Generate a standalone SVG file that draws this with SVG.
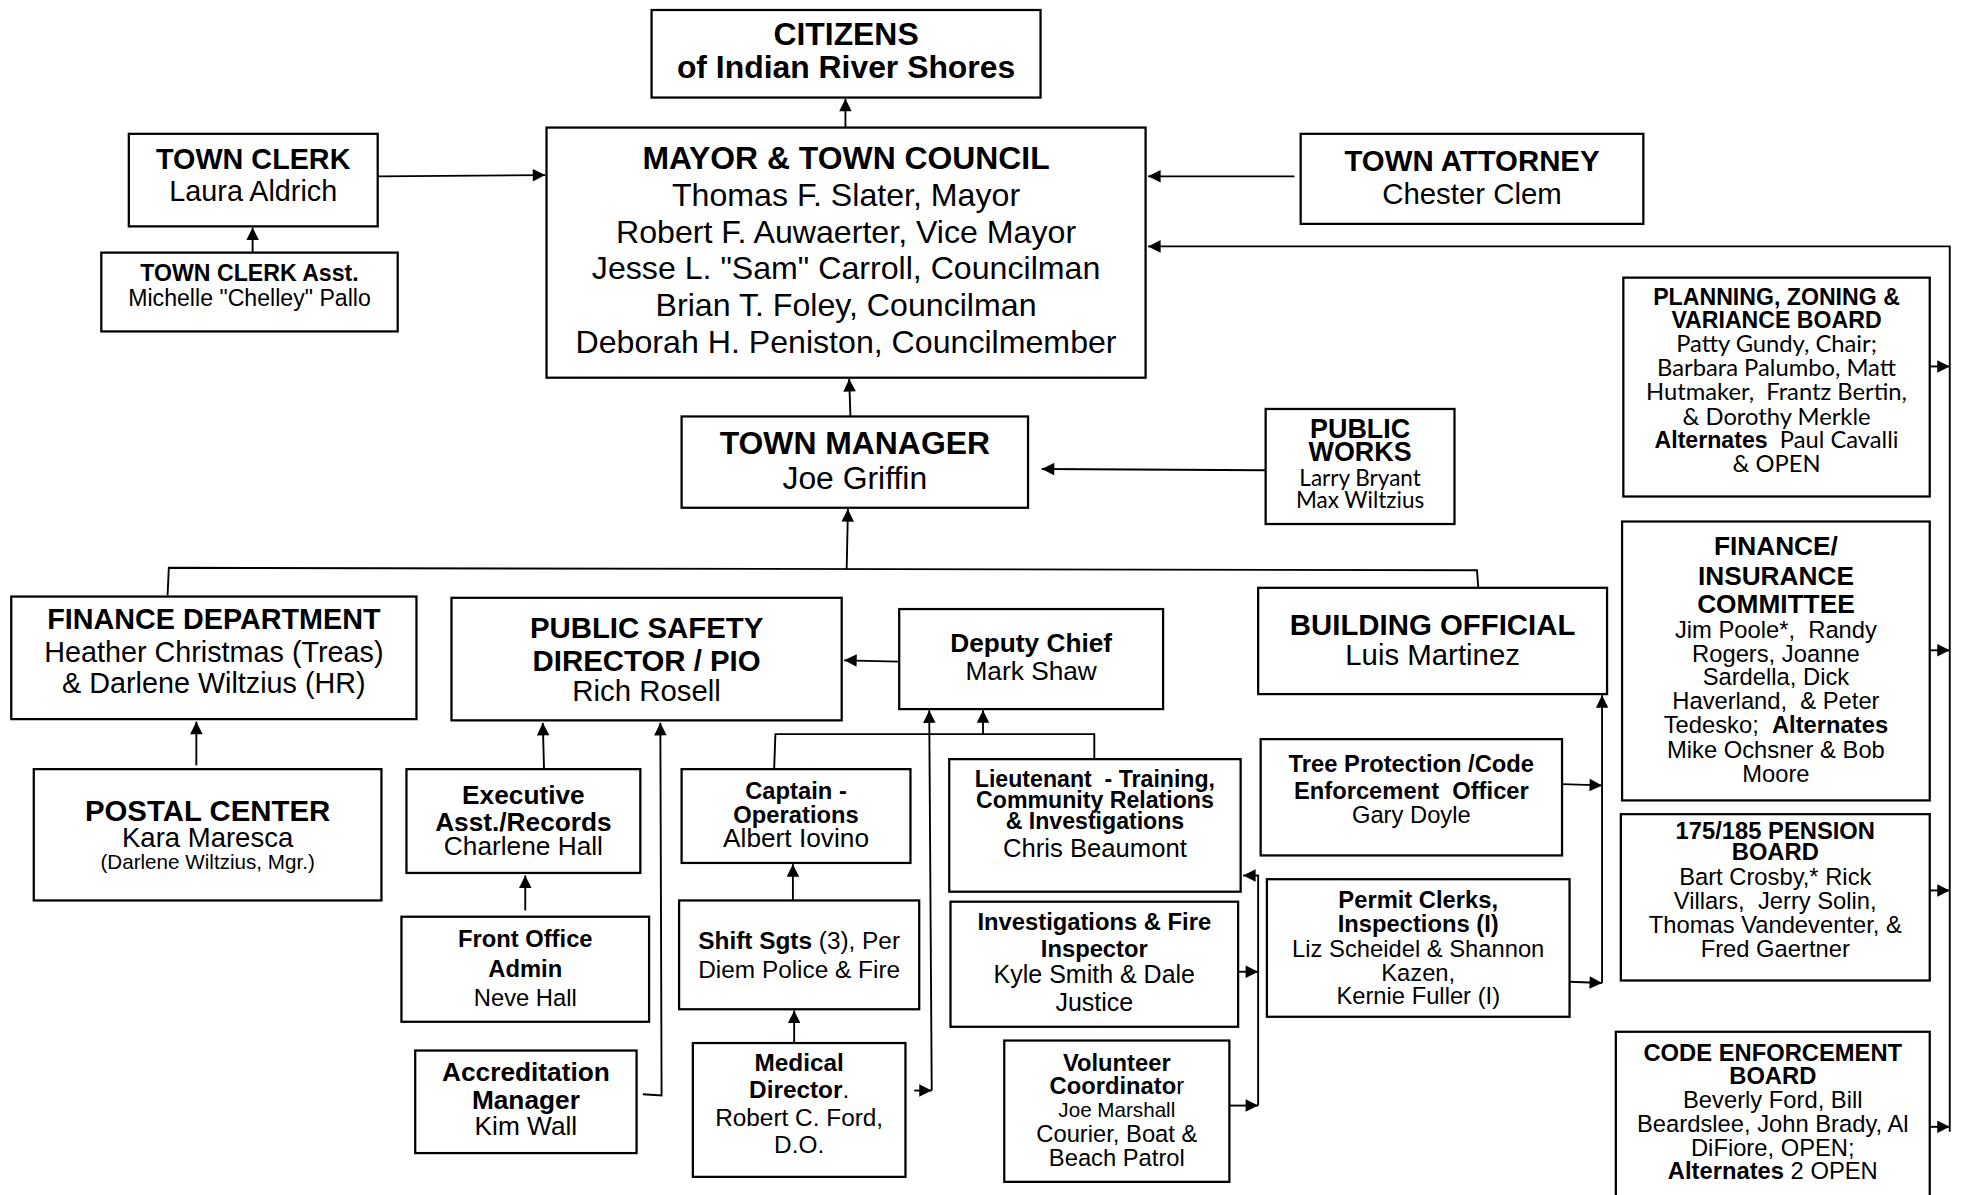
<svg xmlns="http://www.w3.org/2000/svg" width="1961" height="1195" viewBox="0 0 1961 1195" xml:space="preserve">
<defs>
<style>
.bx{fill:#fff;stroke:#000;stroke-width:1.8}
text{text-anchor:middle;fill:#000;font-family:"Liberation Sans",Arial,sans-serif;white-space:pre}
.b{font-weight:bold}
.c{font-family:Lato,"Liberation Sans",sans-serif}
.ln{fill:none;stroke:#000;stroke-width:1.5}
.a{marker-end:url(#ah)}
</style>
<marker id="ah" viewBox="0 0 10 10" refX="10" refY="5" markerWidth="12" markerHeight="10" markerUnits="userSpaceOnUse" orient="auto"><path d="M0,0 L10,5 L0,10 z" fill="#000"/></marker>
</defs>
<rect width="1961" height="1195" fill="#fff"/>
<g transform="scale(1.25064)">
<g id="connectors">
<path class="ln a" d="M676,102 L676,79"/>
<path class="ln a" d="M302,141 L436,140"/>
<path class="ln a" d="M202,202 L202,182"/>
<path class="ln a" d="M1035,141 L918,141"/>
<path class="ln a" d="M1559,905 L1559,197 L918,197"/>
<path class="ln a" d="M1543,293 L1559,293"/>
<path class="ln a" d="M1543,520 L1559,520"/>
<path class="ln a" d="M1543,712 L1559,712"/>
<path class="ln a" d="M1543,901 L1559,901"/>
<path class="ln a" d="M680,333 L679,303"/>
<path class="ln a" d="M1012,376 L833,375"/>
<path class="ln" d="M134,476 L135,454 L1181,456 L1182,470"/>
<path class="ln a" d="M677,455 L678,407"/>
<path class="ln a" d="M157,612 L157,577"/>
<path class="ln a" d="M435,615 L434,578"/>
<path class="ln a" d="M420,728 L420,700"/>
<path class="ln a" d="M514,875 L529,876 L528,578"/>
<path class="ln a" d="M719,529 L675,528"/>
<path class="ln" d="M619,615 L620,587 L875,587 L875,607"/>
<path class="ln a" d="M786,587 L786,568"/>
<path class="ln a" d="M731,872 L745,872"/>
<path class="ln a" d="M745,872 L743,568"/>
<path class="ln a" d="M634,720 L634,691"/>
<path class="ln a" d="M635,834 L635,808"/>
<path class="ln a" d="M1006,884 L1006,700 L994,700"/>
<path class="ln a" d="M990,777 L1006,777"/>
<path class="ln a" d="M983,884 L1006,884"/>
<path class="ln a" d="M1281,786 L1281,556"/>
<path class="ln a" d="M1249,627 L1281,628"/>
<path class="ln a" d="M1255,785 L1281,786"/>
</g>
<g id="citizens"><rect class="bx" x="521" y="8" width="311" height="70"/>
<text class="b" x="676.5" y="36" font-size="25.5">CITIZENS</text>
<text class="b" x="676.5" y="62" font-size="25.5">of Indian River Shores</text></g>
<g id="mayor"><rect class="bx" x="437" y="102" width="479" height="200"/>
<text class="b" x="676.5" y="135" font-size="25.5">MAYOR &amp; TOWN COUNCIL</text>
<text x="676.5" y="165" font-size="25.7">Thomas F. Slater, Mayor</text>
<text x="676.5" y="194" font-size="25.7">Robert F. Auwaerter, Vice Mayor</text>
<text x="676.5" y="223" font-size="25.7">Jesse L. "Sam" Carroll, Councilman</text>
<text x="676.5" y="253" font-size="25.7">Brian T. Foley, Councilman</text>
<text x="676.5" y="282" font-size="25.7">Deborah H. Peniston, Councilmember</text></g>
<g id="town-clerk"><rect class="bx" x="103" y="107" width="199" height="74"/>
<text class="b" x="202.5" y="135" font-size="23">TOWN CLERK</text>
<text x="202.5" y="161" font-size="23">Laura Aldrich</text></g>
<g id="town-clerk-asst"><rect class="bx" x="81" y="202" width="237" height="63"/>
<text class="b" x="199.5" y="224.5" font-size="18.5">TOWN CLERK Asst.</text>
<text x="199.5" y="244.5" font-size="18.5">Michelle "Chelley" Pallo</text></g>
<g id="town-attorney"><rect class="bx" x="1040" y="107" width="274" height="72"/>
<text class="b" x="1177" y="136.5" font-size="23.5">TOWN ATTORNEY</text>
<text x="1177" y="163.5" font-size="23.5">Chester Clem</text></g>
<g id="planning"><rect class="bx" x="1298" y="222" width="245" height="175"/>
<text class="b" x="1420.5" y="243.5" font-size="18.5">PLANNING, ZONING &amp;</text>
<text class="b" x="1420.5" y="262" font-size="18.5">VARIANCE BOARD</text>
<text class="c" x="1420.5" y="281.5" font-size="19">Patty Gundy, Chair;</text>
<text class="c" x="1420.5" y="301" font-size="19">Barbara Palumbo, Matt</text>
<text class="c" x="1420.5" y="320" font-size="19">Hutmaker,  Frantz Bertin,</text>
<text class="c" x="1420.5" y="339.5" font-size="19">&amp; Dorothy Merkle</text>
<text class="c" x="1420.5" y="358.5" font-size="19"><tspan font-family="Liberation Sans, Arial, sans-serif" font-weight="bold" font-size="18.5">Alternates</tspan>  Paul Cavalli</text>
<text class="c" x="1420.5" y="377.5" font-size="19">&amp; OPEN</text></g>
<g id="public-works"><rect class="bx" x="1012" y="327" width="151" height="92"/>
<text class="b" x="1087.5" y="350" font-size="21.5">PUBLIC</text>
<text class="b" x="1087.5" y="369" font-size="21.5">WORKS</text>
<text class="c" x="1087.5" y="389" font-size="18">Larry Bryant</text>
<text class="c" x="1087.5" y="406.5" font-size="18">Max Wiltzius</text></g>
<g id="town-manager"><rect class="bx" x="545" y="333" width="277" height="73"/>
<text class="b" x="683.5" y="363" font-size="25.5">TOWN MANAGER</text>
<text x="683.5" y="391" font-size="25.5">Joe Griffin</text></g>
<g id="finance-dept"><rect class="bx" x="9" y="477" width="324" height="98"/>
<text class="b" x="171" y="503" font-size="23">FINANCE DEPARTMENT</text>
<text x="171" y="529" font-size="23">Heather Christmas (Treas)</text>
<text x="171" y="554" font-size="23">&amp; Darlene Wiltzius (HR)</text></g>
<g id="postal-center"><rect class="bx" x="27" y="615" width="278" height="105"/>
<text class="b" x="166" y="656.5" font-size="23.5">POSTAL CENTER</text>
<text x="166" y="677" font-size="22">Kara Maresca</text>
<text x="166" y="695" font-size="16.5">(Darlene Wiltzius, Mgr.)</text></g>
<g id="public-safety"><rect class="bx" x="361" y="478" width="312" height="98"/>
<text class="b" x="517" y="510.5" font-size="23.5">PUBLIC SAFETY</text>
<text class="b" x="517" y="536.5" font-size="23.5">DIRECTOR / PIO</text>
<text x="517" y="560.5" font-size="23.5">Rich Rosell</text></g>
<g id="deputy-chief"><rect class="bx" x="719" y="487" width="211" height="80"/>
<text class="b" x="824.5" y="521.5" font-size="21">Deputy Chief</text>
<text x="824.5" y="543.5" font-size="21">Mark Shaw</text></g>
<g id="exec-asst"><rect class="bx" x="325" y="615" width="187" height="83"/>
<text class="b" x="418.5" y="642.5" font-size="21">Executive</text>
<text class="b" x="418.5" y="664.5" font-size="21">Asst./Records</text>
<text x="418.5" y="683.5" font-size="21">Charlene Hall</text></g>
<g id="front-office"><rect class="bx" x="321" y="733" width="198" height="84"/>
<text class="b" x="420" y="757" font-size="19">Front Office</text>
<text class="b" x="420" y="781" font-size="19">Admin</text>
<text x="420" y="804" font-size="19">Neve Hall</text></g>
<g id="accreditation"><rect class="bx" x="332" y="840" width="177" height="82"/>
<text class="b" x="420.5" y="864.5" font-size="21">Accreditation</text>
<text class="b" x="420.5" y="886.5" font-size="21">Manager</text>
<text x="420.5" y="907.5" font-size="21">Kim Wall</text></g>
<g id="captain"><rect class="bx" x="545" y="615" width="183" height="75"/>
<text class="b" x="636.5" y="639" font-size="19">Captain -</text>
<text class="b" x="636.5" y="658" font-size="19">Operations</text>
<text x="636.5" y="677.5" font-size="21">Albert Iovino</text></g>
<g id="shift-sgts"><rect class="bx" x="543" y="720" width="192" height="87"/>
<text x="639" y="759" font-size="19.5"><tspan font-weight="bold">Shift Sgts</tspan> (3), Per</text>
<text x="639" y="782" font-size="19.5">Diem Police &amp; Fire</text></g>
<g id="medical-director"><rect class="bx" x="554" y="834" width="170" height="107"/>
<text class="b" x="639" y="856" font-size="19.5">Medical</text>
<text x="639" y="878" font-size="19.5"><tspan font-weight="bold">Director</tspan>.</text>
<text x="639" y="900" font-size="19.5">Robert C. Ford,</text>
<text x="639" y="922" font-size="19.5">D.O.</text></g>
<g id="lieutenant"><rect class="bx" x="759" y="607" width="233" height="106"/>
<text class="b" x="875.5" y="629" font-size="18.5">Lieutenant  - Training,</text>
<text class="b" x="875.5" y="646" font-size="18.5">Community Relations</text>
<text class="b" x="875.5" y="663" font-size="18.5">&amp; Investigations</text>
<text x="875.5" y="685" font-size="20.5">Chris Beaumont</text></g>
<g id="investigations"><rect class="bx" x="760" y="721" width="230" height="100"/>
<text class="b" x="875" y="744" font-size="19">Investigations &amp; Fire</text>
<text class="b" x="875" y="765" font-size="19">Inspector</text>
<text x="875" y="786" font-size="20">Kyle Smith &amp; Dale</text>
<text x="875" y="808" font-size="20">Justice</text></g>
<g id="volunteer"><rect class="bx" x="803" y="832" width="180" height="113"/>
<text class="b" x="893" y="856" font-size="19">Volunteer</text>
<text x="893" y="875" font-size="19"><tspan font-weight="bold">Coordinato</tspan>r</text>
<text x="893" y="893" font-size="16.5">Joe Marshall</text>
<text x="893" y="913" font-size="19">Courier, Boat &amp;</text>
<text x="893" y="932" font-size="19">Beach Patrol</text></g>
<g id="building-official"><rect class="bx" x="1006" y="470" width="279" height="85"/>
<text class="b" x="1145.5" y="507.5" font-size="23.5">BUILDING OFFICIAL</text>
<text x="1145.5" y="531.5" font-size="23.5">Luis Martinez</text></g>
<g id="tree-protection"><rect class="bx" x="1008" y="591" width="241" height="93"/>
<text class="b" x="1128.5" y="617" font-size="19">Tree Protection /Code</text>
<text class="b" x="1128.5" y="639" font-size="19">Enforcement  Officer</text>
<text x="1128.5" y="658" font-size="19">Gary Doyle</text></g>
<g id="permit-clerks"><rect class="bx" x="1013" y="703" width="242" height="110"/>
<text class="b" x="1134" y="726" font-size="19">Permit Clerks,</text>
<text class="b" x="1134" y="745" font-size="19">Inspections (I)</text>
<text x="1134" y="765" font-size="19">Liz Scheidel &amp; Shannon</text>
<text x="1134" y="784" font-size="19">Kazen,</text>
<text x="1134" y="803" font-size="19">Kernie Fuller (I)</text></g>
<g id="finance-insurance"><rect class="bx" x="1297" y="417" width="246" height="223"/>
<text class="b" x="1420" y="443.5" font-size="21">FINANCE/</text>
<text class="b" x="1420" y="467.5" font-size="21">INSURANCE</text>
<text class="b" x="1420" y="490.5" font-size="21">COMMITTEE</text>
<text x="1420" y="510" font-size="19">Jim Poole*,  Randy</text>
<text x="1420" y="529" font-size="19">Rogers, Joanne</text>
<text x="1420" y="548" font-size="19">Sardella, Dick</text>
<text x="1420" y="567" font-size="19">Haverland,  &amp; Peter</text>
<text x="1420" y="586" font-size="19">Tedesko;  <tspan font-weight="bold">Alternates</tspan></text>
<text x="1420" y="606" font-size="19">Mike Ochsner &amp; Bob</text>
<text x="1420" y="625" font-size="19">Moore</text></g>
<g id="pension-board"><rect class="bx" x="1296" y="651" width="247" height="133"/>
<text class="b" x="1419.5" y="671" font-size="19">175/185 PENSION</text>
<text class="b" x="1419.5" y="688" font-size="19">BOARD</text>
<text x="1419.5" y="708" font-size="19">Bart Crosby,* Rick</text>
<text x="1419.5" y="727" font-size="19">Villars,  Jerry Solin,</text>
<text x="1419.5" y="746" font-size="19">Thomas Vandeventer, &amp;</text>
<text x="1419.5" y="765" font-size="19">Fred Gaertner</text></g>
<g id="code-enforcement-board"><rect class="bx" x="1292" y="825" width="251" height="140"/>
<text class="b" x="1417.5" y="848" font-size="19">CODE ENFORCEMENT</text>
<text class="b" x="1417.5" y="867" font-size="19">BOARD</text>
<text x="1417.5" y="886" font-size="19">Beverly Ford, Bill</text>
<text x="1417.5" y="905" font-size="19">Beardslee, John Brady, Al</text>
<text x="1417.5" y="924" font-size="19">DiFiore, OPEN;</text>
<text x="1417.5" y="943" font-size="19"><tspan font-weight="bold">Alternates</tspan> 2 OPEN</text></g>
</g>
</svg>
